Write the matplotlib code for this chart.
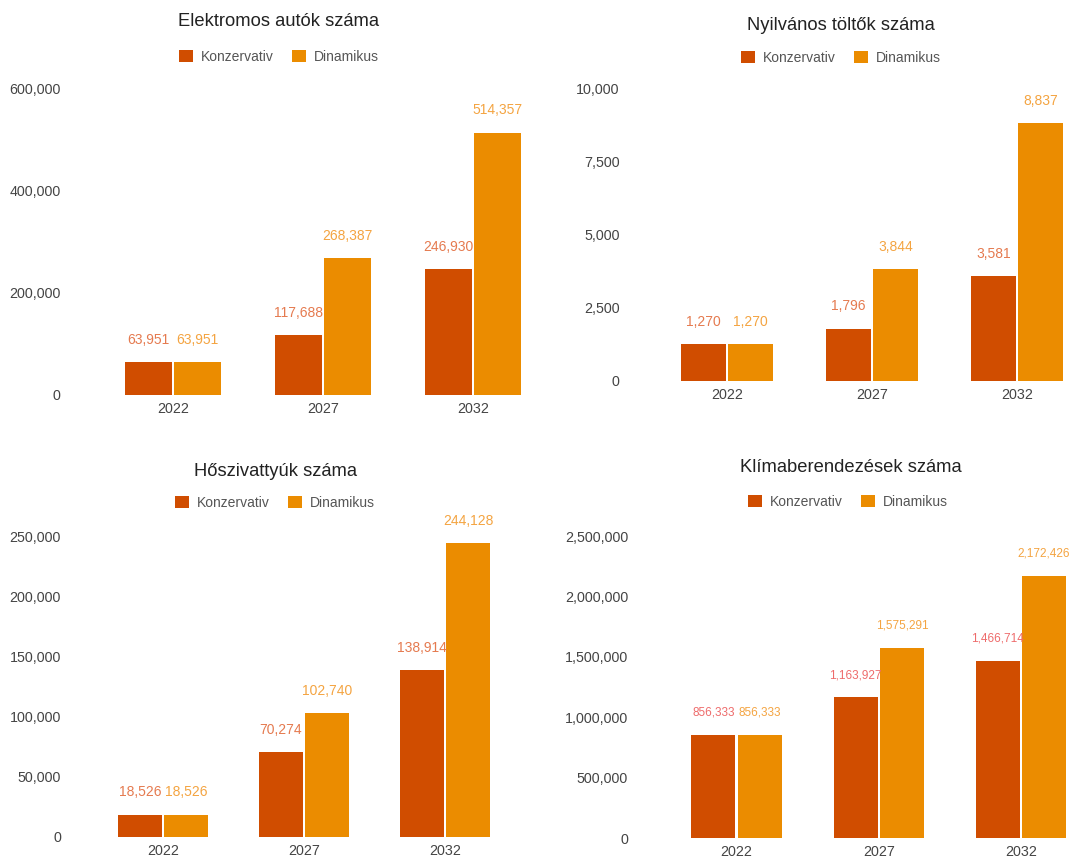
"""
Four grouped bar charts: Konzervativ vs Dinamikus scenario (2022, 2027, 2032)
"""
import matplotlib.pyplot as plt
import numpy as np

plt.rcParams['font.family'] = ['Liberation Sans', 'DejaVu Sans']

years = ['2022', '2027', '2032']
series_names = ['Konzervativ', 'Dinamikus']

autok_konz = [63951, 117688, 246930]
autok_din = [63951, 268387, 514357]

toltok_konz = [1270, 1796, 3581]
toltok_din = [1270, 3844, 8837]

hoszivattyu_konz = [18526, 70274, 138914]
hoszivattyu_din = [18526, 102740, 244128]

klima_konz = [856333, 1163927, 1466714]
klima_din = [856333, 1575291, 2172426]

titles = ['Elektromos autók száma', 'Nyilvános töltők száma',
          'Hőszivattyúk száma', 'Klímaberendezések száma']
yticks = [[0, 200000, 400000, 600000],
          [0, 2500, 5000, 7500, 10000],
          [0, 50000, 100000, 150000, 200000, 250000],
          [0, 500000, 1000000, 1500000, 2000000, 2500000]]

BAR_KONZ = '#d04d00'
BAR_DIN = '#eb8c00'
LBL_DIN = '#f4a441'

W, H = 1085, 859


def px_axes(fig, x0, x1, y_top, y_bottom):
    return fig.add_axes([x0 / W, 1 - y_bottom / H, (x1 - x0) / W, (y_bottom - y_top) / H])


def draw_panel(fig, ax, konz, din, title, ticks, title_xy, legend_xy,
               label_size, konz_lbl_color, ypad):
    x = np.arange(len(years))
    off, width = 0.163, 0.31
    b1 = ax.bar(x - off, konz, width, color=BAR_KONZ, label=series_names[0])
    b2 = ax.bar(x + off, din, width, color=BAR_DIN, label=series_names[1])
    for bars, color in ((b1, konz_lbl_color), (b2, LBL_DIN)):
        for rect in bars:
            h = rect.get_height()
            ax.annotate(f'{h:,.0f}', (rect.get_x() + rect.get_width() / 2, h),
                        xytext=(0, 16), textcoords='offset points',
                        ha='center', va='center', fontsize=label_size, color=color)
    ax.set_xlim(-0.5, 2.5)
    ax.set_ylim(ticks[0], ticks[-1])
    ax.set_yticks(ticks)
    ax.set_yticklabels([f'{t:,}' for t in ticks])
    ax.set_xticks(x)
    ax.set_xticklabels(years)
    ax.tick_params(axis='y', length=0, pad=ypad, labelsize=10.3, labelcolor='#444444')
    ax.tick_params(axis='x', length=0, pad=5, labelsize=10.3, labelcolor='#444444')
    for s in ax.spines.values():
        s.set_visible(False)
    fig.text(title_xy[0] / W, 1 - title_xy[1] / H, title, ha='center', va='center',
             fontsize=13.2, color='#222222')
    ax.legend(loc='center', bbox_to_anchor=(legend_xy[0] / W, 1 - legend_xy[1] / H),
              bbox_transform=fig.transFigure, ncol=2, frameon=False, fontsize=10,
              handlelength=1.0, handleheight=1.0, handletextpad=0.6,
              columnspacing=1.3, labelcolor='#555555')


def create_figure():
    fig = plt.figure(figsize=(W / 100, H / 100), dpi=100)

    ax1 = px_axes(fig, 98, 548, 89, 395)
    draw_panel(fig, ax1, autok_konz, autok_din, titles[0], yticks[0],
               (279, 22), (279, 57), 10, '#e57a4f', 27)

    ax2 = px_axes(fig, 654.5, 1089.5, 89, 381)
    draw_panel(fig, ax2, toltok_konz, toltok_din, titles[1], yticks[1],
               (841, 25), (841, 58), 10, '#e57a4f', 25)

    ax3 = px_axes(fig, 92.5, 515.5, 536, 837)
    draw_panel(fig, ax3, hoszivattyu_konz, hoszivattyu_din, titles[2], yticks[2],
               (275, 471), (275, 503), 10, '#e57a4f', 22.7)

    ax4 = px_axes(fig, 665.5, 1092, 536, 838)
    draw_panel(fig, ax4, klima_konz, klima_din, titles[3], yticks[3],
               (851, 467), (848, 502), 8.5, '#ee6b6b', 27)

    fig.savefig('out.png', dpi=100)
    plt.close(fig)


if __name__ == "__main__":
    create_figure()
